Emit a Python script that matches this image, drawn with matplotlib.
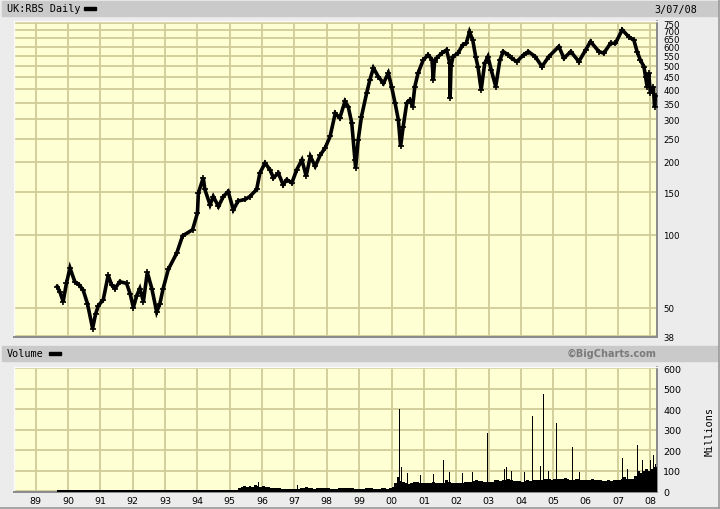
import matplotlib
matplotlib.use("Agg")
import matplotlib.pyplot as plt
from matplotlib.patches import Rectangle
from matplotlib.ticker import NullLocator, FixedLocator

# -----------------------------------------
# DATA
# -----------------------------------------
price_year = [
    1989.67, 1989.75, 1989.85, 1989.95, 1990.06, 1990.21, 1990.35, 1990.47, 1990.60, 1990.76,
    1990.85, 1990.94, 1991.09, 1991.24, 1991.35, 1991.45, 1991.60, 1991.81, 1991.92, 1992.02,
    1992.12, 1992.22, 1992.33, 1992.45, 1992.59, 1992.74, 1992.84, 1992.94, 1993.10, 1993.36,
    1993.54, 1993.85, 1994.00, 1994.03, 1994.18, 1994.23, 1994.39, 1994.49, 1994.65, 1994.80,
    1994.95, 1995.11, 1995.26, 1995.47, 1995.62, 1995.83, 1995.93, 1996.09, 1996.24, 1996.35,
    1996.50, 1996.65, 1996.76, 1996.92, 1997.07, 1997.23, 1997.36, 1997.49, 1997.64, 1997.80,
    1997.95, 1998.10, 1998.26, 1998.40, 1998.56, 1998.66, 1998.77, 1998.87, 1998.89, 1998.97,
    1999.07, 1999.23, 1999.33, 1999.44, 1999.59, 1999.75, 1999.90, 2000.00, 2000.11, 2000.21,
    2000.28, 2000.36, 2000.47, 2000.57, 2000.65, 2000.72, 2000.82, 2000.98, 2001.13, 2001.25,
    2001.29, 2001.33, 2001.39, 2001.55, 2001.70, 2001.80, 2001.81, 2001.84, 2001.90, 2002.05,
    2002.20, 2002.31, 2002.41, 2002.51, 2002.60, 2002.67, 2002.77, 2002.88, 2002.98, 2003.08,
    2003.22, 2003.35, 2003.45, 2003.61, 2003.71, 2003.87, 2004.08, 2004.23, 2004.44, 2004.65,
    2004.86, 2005.17, 2005.33, 2005.54, 2005.79, 2006.00, 2006.15, 2006.41, 2006.56, 2006.77,
    2006.92, 2007.13, 2007.33, 2007.49, 2007.59, 2007.69, 2007.80, 2007.85, 2007.90, 2007.95,
    2008.00, 2008.09, 2008.13, 2008.16,
]
price = [
    61, 58, 53, 63, 73, 64, 62, 59, 52, 41,
    47, 51, 54, 68, 62, 60, 64, 63, 57, 50,
    56, 60, 53, 70, 60, 48, 52, 60, 72, 84,
    99, 105, 123, 149, 172, 154, 133, 144, 131, 144,
    151, 127, 138, 140, 144, 154, 180, 198, 186, 172,
    180, 161, 169, 164, 186, 204, 175, 211, 192, 214,
    229, 255, 318, 304, 356, 339, 290, 204, 189, 247,
    308, 385, 437, 489, 451, 423, 466, 410, 350, 299,
    232, 280, 350, 361, 339, 410, 466, 528, 554, 530,
    437, 520, 537, 563, 581, 512, 367, 500, 545, 563,
    609, 619, 690, 638, 545, 496, 397, 512, 545, 481,
    410, 528, 572, 554, 537, 520, 554, 572, 545, 496,
    545, 600, 537, 572, 520, 581, 629, 572, 563, 619,
    619, 703, 659, 638, 572, 528, 496, 451, 410, 466,
    385, 410, 339, 373,
]

# monthly volume (millions), Sep 1989 .. Mar 2008
vol_start = 1989 + 8 / 12
vol_monthly = [
    4, 4, 4, 4,                                        # 1989 Sep-Dec
    4, 4, 4, 4, 4, 4, 4, 4, 4, 4, 4, 4,                # 1990
    4, 4, 4, 4, 4, 4, 4, 4, 4, 4, 4, 4,                # 1991
    4, 4, 4, 4, 4, 4, 4, 4, 4, 4, 4, 4,                # 1992
    4, 4, 4, 4, 4, 4, 4, 4, 4, 4, 4, 4,                # 1993
    4, 4, 4, 4, 4, 4, 4, 4, 4, 4, 4, 4,                # 1994
    4, 4, 4, 15, 20, 25, 20, 25, 20, 30, 25, 20,       # 1995
    25, 20, 20, 15, 15, 15, 15, 12, 12, 12, 12, 12,    # 1996
    12, 12, 15, 15, 20, 15, 15, 12, 15, 15, 15, 15,    # 1997
    15, 12, 12, 12, 15, 15, 15, 15, 15, 15, 12, 12,    # 1998
    12, 12, 15, 15, 15, 12, 12, 12, 15, 15, 12, 15,    # 1999
    20, 40, 70, 50, 45, 40, 35, 40, 45, 45, 40, 40,    # 2000
    40, 40, 40, 45, 40, 40, 40, 40, 55, 45, 40, 40,    # 2001
    40, 40, 40, 45, 45, 45, 50, 55, 50, 50, 45, 45,    # 2002
    45, 45, 55, 55, 50, 55, 55, 60, 55, 50, 50, 50,    # 2003
    45, 50, 55, 50, 55, 55, 55, 55, 60, 60, 60, 55,    # 2004
    60, 60, 60, 60, 65, 60, 55, 55, 60, 60, 55, 55,    # 2005
    55, 55, 60, 55, 55, 55, 50, 50, 55, 50, 55, 55,    # 2006
    55, 60, 70, 60, 60, 60, 75, 100, 90, 100, 110, 100,  # 2007
    110, 120, 120,                                     # 2008 Jan-Mar
]
vol_month_year = [vol_start + i / 12 for i in range(len(vol_monthly))]

spike_year = [1995.50, 1995.88, 1996.15, 1997.10, 1998.00, 1999.95, 2000.05, 2000.20, 2000.24,
              2000.30, 2000.50, 2000.90, 2001.30, 2001.60, 2001.80, 2002.20, 2002.50, 2002.70,
              2002.96, 2003.50, 2003.55, 2003.70, 2004.10, 2004.35, 2004.60, 2004.69, 2004.85,
              2005.10, 2005.30, 2005.59, 2005.80, 2006.16, 2006.50, 2007.00, 2007.13, 2007.30,
              2007.60, 2007.75, 2007.90, 2008.00, 2008.09, 2008.15]
spike_vol = [35, 44, 35, 28, 32, 60, 105, 110, 402,
             120, 90, 80, 85, 150, 95, 90, 95, 100,
             284, 110, 120, 100, 95, 369, 125, 476, 100,
             333, 100, 214, 95, 140, 90, 130, 164, 110,
             225, 150, 200, 150, 176, 130]

years = list(range(1989, 2009))
year_labels = ["%02d" % (y % 100) for y in years]
price_ticks = [38, 50, 100, 150, 200, 250, 300, 350, 400, 450, 500, 550, 600, 650, 700, 750]
vol_ticks = [0, 100, 200, 300, 400, 500, 600]

# -----------------------------------------
# STYLE
# -----------------------------------------
W, H = 720, 510
BG = "#ececec"
BAR = "#cacaca"
PANEL = "#ffffd4"
GRID = "#d0cc98"
XMIN, XMAX = 1988.33, 2008.19


def fx(px):
    return px / W


def fy(py):
    return 1 - py / H


fig = plt.figure(figsize=(7.2, 5.1), dpi=100, facecolor=BG)

# header bars
for top, bot in [(2, 17), (346.5, 361.5)]:
    fig.patches.append(Rectangle((fx(2), fy(bot)), fx(716), (bot - top) / H,
                                 transform=fig.transFigure, color=BAR, zorder=0))
# outer frame shadow
fig.add_artist(plt.Line2D([fx(718.5), fx(718.5)], [fy(0), fy(509)], transform=fig.transFigure,
                          color="#9a9a9a", lw=1.2))
fig.add_artist(plt.Line2D([fx(0), fx(719)], [fy(508.5), fy(508.5)], transform=fig.transFigure,
                          color="#9a9a9a", lw=1.2))

mono = "DejaVu Sans Mono"
fig.text(fx(7), fy(9.5), "UK:RBS Daily", family=mono, fontsize=7.3, va="center", ha="left")
fig.patches.append(Rectangle((fx(83.5), fy(10.5)), 12 / W, 3 / H, transform=fig.transFigure,
                             color="black"))
fig.text(fx(697), fy(9.5), "3/07/08", family=mono, fontsize=7.3, va="center", ha="right")

fig.text(fx(7), fy(354.5), "Volume", family=mono, fontsize=7.3, va="center", ha="left")
fig.patches.append(Rectangle((fx(48.5), fy(355.5)), 12 / W, 3 / H, transform=fig.transFigure,
                             color="black"))
fig.text(fx(656), fy(354), "\u00a9BigCharts.com", fontsize=7, fontweight="bold",
         color="#7a7a7a", va="center", ha="right")
fig.text(fx(710), fy(432), "Millions", family=mono, fontsize=7.3, rotation=90,
         va="center", ha="center")


def style_axes(ax, ysize):
    ax.set_facecolor(PANEL)
    ax.set_xlim(XMIN, XMAX)
    ax.xaxis.set_major_locator(FixedLocator(years))
    ax.xaxis.set_minor_locator(NullLocator())
    ax.grid(True, color=GRID, lw=1.3, zorder=0)
    ax.set_axisbelow(True)
    ax.yaxis.tick_right()
    ax.tick_params(axis="both", length=0, colors="black")
    ax.tick_params(axis="x", pad=2.5, labelsize=6.8)
    ax.tick_params(axis="y", pad=4.8, labelsize=ysize)
    for side in ["left", "top"]:
        ax.spines[side].set_color("#fbfbfb")
        ax.spines[side].set_linewidth(1.0)
    for side in ["right", "bottom"]:
        ax.spines[side].set_color("#8a8a8a")
        ax.spines[side].set_linewidth(1.4)


# -----------------------------------------
# PRICE PANEL
# -----------------------------------------
ax1 = fig.add_axes([fx(14), fy(337.5), 642.5 / W, 315.5 / H])
style_axes(ax1, 6.2)
ax1.set_yscale("log")
ax1.set_ylim(38, 765)
ax1.yaxis.set_major_locator(FixedLocator(price_ticks))
ax1.yaxis.set_minor_locator(NullLocator())
ax1.set_yticklabels([str(t) for t in price_ticks])
ax1.set_xticklabels([])
ax1.plot(price_year, price, color="black", lw=2.6, solid_joinstyle="miter",
         marker="+", ms=5, mew=1.2, zorder=3)

# -----------------------------------------
# VOLUME PANEL
# -----------------------------------------
ax2 = fig.add_axes([fx(14), fy(493.3), 642.5 / W, 125.6 / H])
style_axes(ax2, 6.8)
ax2.set_ylim(-6, 608)
ax2.yaxis.set_major_locator(FixedLocator(vol_ticks))
ax2.set_yticklabels([str(t) for t in vol_ticks])
ax2.set_xticklabels(year_labels)
v_bottom = -6
ax2.bar(vol_month_year, [v - v_bottom for v in vol_monthly], bottom=v_bottom, width=1 / 12,
        align="edge", color="black", lw=0, zorder=3)
ax2.bar(spike_year, [v - v_bottom for v in spike_vol], bottom=v_bottom, width=0.02,
        color="black", lw=0, zorder=3)

fig.savefig("out.png", dpi=100, facecolor=BG)
